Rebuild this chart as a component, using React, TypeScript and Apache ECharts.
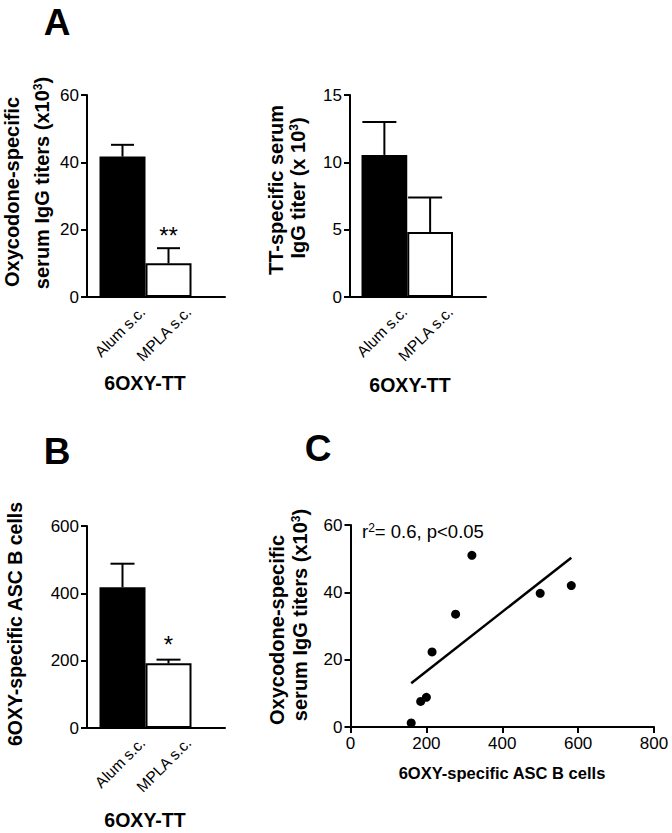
import React, { useEffect, useRef } from 'react';
import * as echarts from 'echarts';

// ---------- data ----------
const groups = ['Alum s.c.', 'MPLA s.c.'];

const oxyTicks = [0, 20, 40, 60];
const oxyTiterMean = [41.7, 10.0];
const oxyTiterSem = [3.5, 4.5];
const oxyTiterSig = ['', '**'];

const ttTicks = [0, 5, 10, 15];
const ttTiterMean = [10.55, 4.83];
const ttTiterSem = [2.45, 2.55];
const ttTiterSig = ['', ''];

const ascTicks = [0, 200, 400, 600];
const ascMean = [418, 192];
const ascSem = [70, 11];
const ascSig = ['', '*'];

const corrXTicks = [0, 200, 400, 600, 800];
const corrYTicks = [0, 20, 40, 60];
const ascCells = [160, 185, 200, 215, 277, 320, 500, 582];
const oxyTiter = [1.2, 7.6, 8.8, 22.3, 33.5, 51, 39.7, 42];
const fitX = [160, 582];
const fitY = [13, 50.3];

const FONT = '"Liberation Sans", Arial, Helvetica, sans-serif';
const TICK_FONT = 17;
const CAT_FONT = 15.5;

function buildOption() {
  const grids: any[] = [];
  const xAxes: any[] = [];
  const yAxes: any[] = [];
  const series: any[] = [];

  const addGrid = (g: any) => {
    grids.push({ ...g, containLabel: false });
    return grids.length - 1;
  };

  const barPanel = (
    frame: { left: number; top: number; width: number; height: number },
    barsLeft: number,
    barsWidth: number,
    labelShift: number,
    ticks: number[],
    mean: number[],
    sem: number[],
    sig: string[],
    capL: number,
    capR: number,
    starGap: number
  ) => {
    const min = ticks[0];
    const max = ticks[ticks.length - 1];
    const interval = ticks[1] - ticks[0];
    // frame (axis lines, y ticks)
    const fg = addGrid(frame);
    xAxes.push({
      gridIndex: fg, type: 'value', min: 0, max: 1,
      axisLine: { show: true, onZero: false, lineStyle: { color: '#000', width: 2 } },
      axisTick: { show: false }, axisLabel: { show: false }, splitLine: { show: false },
    });
    yAxes.push({
      gridIndex: fg, type: 'value', min, max, interval,
      axisLine: { show: true, onZero: false, lineStyle: { color: '#000', width: 2 } },
      axisTick: { show: true, length: 6, lineStyle: { color: '#000', width: 2 } },
      axisLabel: { margin: 8, fontSize: TICK_FONT, color: '#000', fontFamily: FONT },
      splitLine: { show: false },
    });
    // bars
    const bg = addGrid({ left: barsLeft, top: frame.top, width: barsWidth, height: frame.height });
    xAxes.push({
      gridIndex: bg, type: 'category', data: groups,
      axisLine: { show: false }, axisTick: { show: false }, axisLabel: { show: false },
    });
    yAxes.push({ gridIndex: bg, type: 'value', min, max, interval, show: false, splitLine: { show: false } });
    const xi = xAxes.length - 1;
    const yi = yAxes.length - 1;
    series.push({
      type: 'bar', xAxisIndex: xi, yAxisIndex: yi, barWidth: '100%',
      data: mean.map((v, i) => ({ value: v, itemStyle: { color: i === 0 ? '#000' : '#fff' } })),
      itemStyle: { borderColor: '#000', borderWidth: 2 },
      z: 2,
    });
    series.push({
      type: 'custom', xAxisIndex: xi, yAxisIndex: yi, z: 3,
      data: mean.map((v, i) => [i, v, sem[i]]),
      renderItem: (params: any, api: any) => {
        const i = api.value(0);
        const m = api.value(1);
        const e = api.value(2);
        const base = api.coord([i, m]);
        const top = api.coord([i, m + e]);
        const children: any[] = [
          { type: 'line', shape: { x1: base[0], y1: base[1], x2: top[0], y2: top[1] }, style: { stroke: '#000', lineWidth: 2 } },
          { type: 'line', shape: { x1: top[0] - capL, y1: top[1], x2: top[0] + capR, y2: top[1] }, style: { stroke: '#000', lineWidth: 2 } },
        ];
        const s = sig[params.dataIndex];
        if (s) {
          children.push({
            type: 'text', x: top[0], y: top[1] - starGap,
            style: { text: s, fontSize: 24, fill: '#000', align: 'center', verticalAlign: 'middle', fontFamily: FONT },
          });
        }
        return { type: 'group', children };
      },
    });
    // category labels
    const lg = addGrid({ left: barsLeft + labelShift, top: frame.top, width: barsWidth, height: frame.height });
    xAxes.push({
      gridIndex: lg, type: 'category', data: groups,
      axisLine: { show: false }, axisTick: { show: false },
      axisLabel: { rotate: 45, margin: 12, fontSize: CAT_FONT, color: '#000', fontFamily: FONT, interval: 0 },
    });
    yAxes.push({ gridIndex: lg, type: 'value', min, max, show: false, splitLine: { show: false } });
  };

  barPanel({ left: 87, top: 95, width: 138, height: 202 }, 99.5, 92, 20, oxyTicks, oxyTiterMean, oxyTiterSem, oxyTiterSig, 11.5, 11.5, 13);
  barPanel({ left: 350, top: 95, width: 136, height: 202 }, 361.5, 91.5, 20, ttTicks, ttTiterMean, ttTiterSem, ttTiterSig, 22, 12, 13);
  barPanel({ left: 87, top: 526, width: 138, height: 202 }, 99.5, 92, 20, ascTicks, ascMean, ascSem, ascSig, 12, 12, 15);

  // scatter panel C
  const cg = addGrid({ left: 350.5, top: 525, width: 303.5, height: 202 });
  xAxes.push({
    gridIndex: cg, type: 'value', min: corrXTicks[0], max: corrXTicks[corrXTicks.length - 1], interval: corrXTicks[1] - corrXTicks[0],
    axisLine: { show: true, onZero: false, lineStyle: { color: '#000', width: 2 } },
    axisTick: { show: true, length: 6, lineStyle: { color: '#000', width: 2 } },
    axisLabel: { margin: 8, fontSize: TICK_FONT, color: '#000', fontFamily: FONT },
    splitLine: { show: false },
  });
  yAxes.push({
    gridIndex: cg, type: 'value', min: corrYTicks[0], max: corrYTicks[corrYTicks.length - 1], interval: corrYTicks[1] - corrYTicks[0],
    axisLine: { show: true, onZero: false, lineStyle: { color: '#000', width: 2 } },
    axisTick: { show: true, length: 6, lineStyle: { color: '#000', width: 2 } },
    axisLabel: { margin: 8, fontSize: TICK_FONT, color: '#000', fontFamily: FONT },
    splitLine: { show: false },
  });
  const cx = xAxes.length - 1;
  const cy = yAxes.length - 1;
  series.push({
    type: 'line', xAxisIndex: cx, yAxisIndex: cy, showSymbol: false, symbol: 'none',
    data: fitX.map((x, i) => [x, fitY[i]]),
    lineStyle: { color: '#000', width: 2.5 }, z: 2,
  });
  series.push({
    type: 'scatter', xAxisIndex: cx, yAxisIndex: cy, symbol: 'circle', symbolSize: 9,
    data: ascCells.map((x, i) => [x, oxyTiter[i]]),
    itemStyle: { color: '#000', opacity: 1 }, z: 3,
  });

  const boldTitle = (x: number, y: number, text: string, rot = true, size = 20) => ({
    type: 'text', x, y, rotation: rot ? Math.PI / 2 : 0,
    style: {
      text, fontSize: size, fontWeight: 'bold', fill: '#000', fontFamily: FONT,
      align: 'center', verticalAlign: 'middle',
      rich: {
        sup: { fontSize: Math.round(size * 0.62), verticalAlign: 'top', fontFamily: FONT, fontWeight: 'bold', fill: '#000' },
        b: { fontSize: size, fontWeight: 'bold', fontFamily: FONT, fill: '#000' },
      },
    },
  });
  const letter = (x: number, y: number, t: string) => ({
    type: 'text', x, y,
    style: { text: t, fontSize: 37, fontWeight: 'bold', fill: '#000', fontFamily: FONT, align: 'center', verticalAlign: 'middle' },
  });

  const graphic: any[] = [
    letter(57, 22, 'A'),
    letter(57, 451, 'B'),
    letter(318, 448, 'C'),
    boldTitle(12, 192, 'Oxycodone-specific'),
    boldTitle(42, 183, '{b|serum IgG titers (x10}{sup|3}{b|)}'),
    boldTitle(276, 190, 'TT-specific serum'),
    boldTitle(298, 188, '{b|IgG titer (x 10}{sup|3}{b|)}'),
    boldTitle(15, 624, '6OXY-specific ASC B cells', true, 19.5),
    boldTitle(277, 630, 'Oxycodone-specific'),
    boldTitle(300, 615, '{b|serum IgG titers (x10}{sup|3}{b|)}'),
    boldTitle(145, 383, '6OXY-TT', false, 19.5),
    boldTitle(410, 385, '6OXY-TT', false, 19.5),
    boldTitle(145, 820, '6OXY-TT', false, 19.5),
    boldTitle(502, 773, '6OXY-specific ASC B cells', false, 16.5),
    {
      type: 'text', x: 362, y: 531,
      style: {
        text: '{n|r}{s|2}{n|= 0.6, p<0.05}', align: 'left', verticalAlign: 'middle', fill: '#000', fontFamily: FONT,
        rich: {
          n: { fontSize: 18.5, fontFamily: FONT, fill: '#000' },
          s: { fontSize: 12, verticalAlign: 'top', fontFamily: FONT, fill: '#000' },
        },
      },
    },
  ];

  return {
    animation: false,
    backgroundColor: '#fff',
    textStyle: { fontFamily: FONT },
    grid: grids,
    xAxis: xAxes,
    yAxis: yAxes,
    series,
    graphic,
  };
}

export default function App() {
  const ref = useRef<HTMLDivElement>(null);
  useEffect(() => {
    if (!ref.current) return;
    const chart = echarts.init(ref.current, undefined, { renderer: 'svg' });
    chart.setOption(buildOption() as any);
    return () => chart.dispose();
  }, []);
  return (
    <div
      ref={ref}
      style={{ position: 'absolute', left: 0, top: 0, width: 672, height: 833, background: '#fff' }}
    />
  );
}
